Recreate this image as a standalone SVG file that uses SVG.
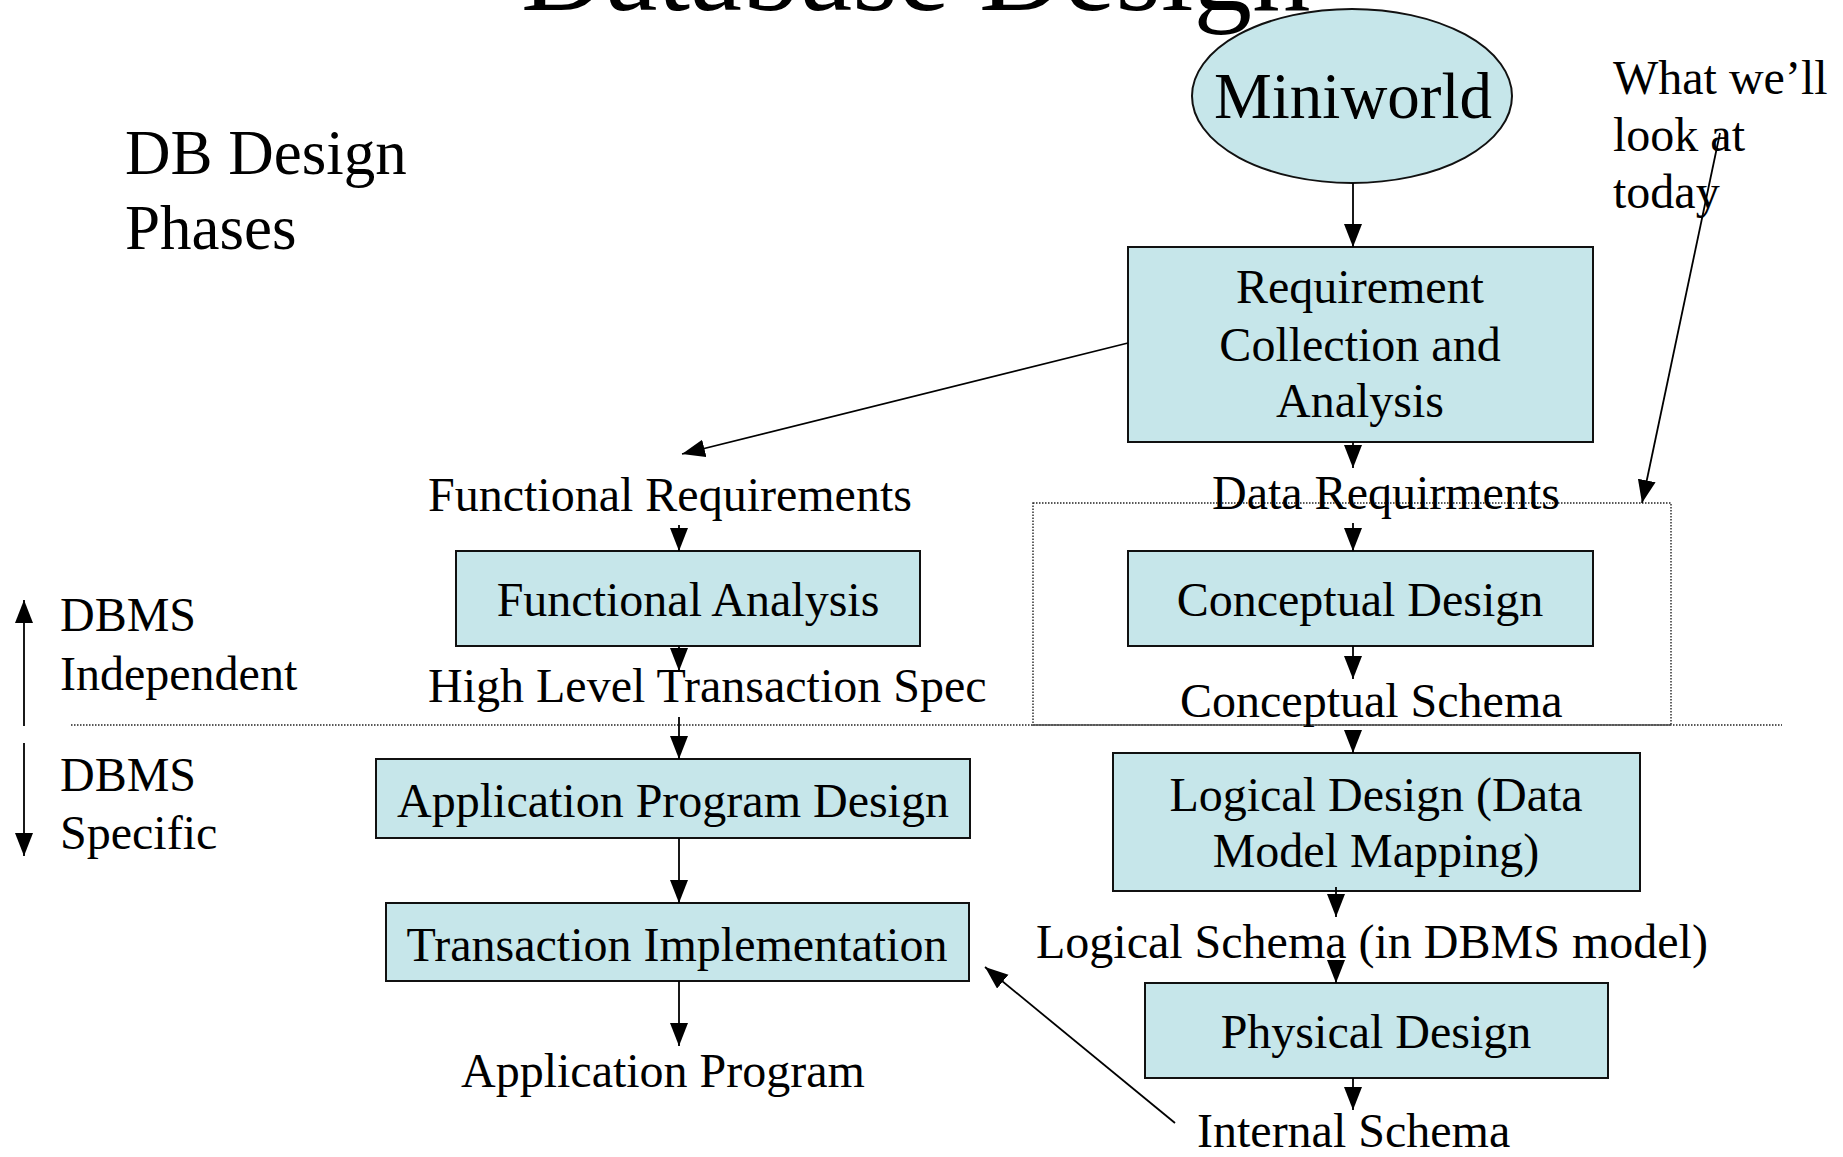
<svg xmlns="http://www.w3.org/2000/svg" width="1843" height="1157" viewBox="0 0 1843 1157">
  <style>
    text { font-family: "Liberation Serif", "Times New Roman", serif; fill: #000; }
    .t48 { font-size: 48px; }
    .mid { text-anchor: middle; }
    .box { fill: #C6E6EA; stroke: #111; stroke-width: 2; }
    .conn { stroke: #000; stroke-width: 1.8; fill: none; marker-end: url(#ah); }
    .dot { stroke: #222; stroke-width: 1.4; fill: none; stroke-dasharray: 1.5 1.5; }
  </style>
  <defs>
    <marker id="ah" markerUnits="userSpaceOnUse" markerWidth="24" markerHeight="20" refX="23" refY="9" orient="auto">
      <path d="M0,0 L23,9 L0,18 z" fill="#000"/>
    </marker>
  </defs>

  <rect width="1843" height="1157" fill="#fff"/>

  <!-- slide title (clipped by the top edge) -->
  <text id="title" x="521" y="10" style="font-size:117px">Database Design</text>

  <!-- side headings -->
  <g id="phases-heading">
    <text x="125" y="174" style="font-size:63px">DB Design</text>
    <text x="125" y="249" style="font-size:63px">Phases</text>
  </g>
  <g id="dbms-independent">
    <text class="t48" x="60" y="631">DBMS</text>
    <text class="t48" x="60" y="690">Independent</text>
  </g>
  <g id="dbms-specific">
    <text class="t48" x="60" y="791">DBMS</text>
    <text class="t48" x="60" y="849">Specific</text>
  </g>
  <g id="today-note">
    <text class="t48" x="1613" y="94">What we’ll</text>
    <text class="t48" x="1613" y="151">look at</text>
    <text class="t48" x="1613" y="208">today</text>
  </g>

  <!-- separators and the highlighted region -->
  <g id="regions">
    <line class="dot" x1="71" y1="725" x2="1782" y2="725"/>
    <rect class="dot" x="1033" y="503" width="638" height="222"/>
  </g>

  <!-- process nodes -->
  <g id="miniworld">
    <ellipse cx="1352" cy="96" rx="160" ry="87" fill="#C6E6EA" stroke="#111" stroke-width="2"/>
    <text x="1353" y="118" class="mid" style="font-size:65px">Miniworld</text>
  </g>
  <g id="requirement-collection">
    <rect class="box" x="1128" y="247" width="465" height="195"/>
    <text class="t48 mid" x="1360" y="303">Requirement</text>
    <text class="t48 mid" x="1360" y="361">Collection and</text>
    <text class="t48 mid" x="1360" y="417">Analysis</text>
  </g>
  <g id="functional-requirements">
    <text class="t48" x="428" y="511">Functional Requirements</text>
  </g>
  <g id="data-requirements">
    <text class="t48" x="1212" y="509">Data Requirments</text>
  </g>
  <g id="functional-analysis">
    <rect class="box" x="456" y="551" width="464" height="95"/>
    <text class="t48 mid" x="688" y="616">Functional Analysis</text>
  </g>
  <g id="conceptual-design">
    <rect class="box" x="1128" y="551" width="465" height="95"/>
    <text class="t48 mid" x="1360" y="616">Conceptual Design</text>
  </g>
  <g id="high-level-spec">
    <text class="t48" x="428" y="702">High Level Transaction Spec</text>
  </g>
  <g id="conceptual-schema">
    <text class="t48" x="1180" y="717">Conceptual Schema</text>
  </g>
  <g id="application-program-design">
    <rect class="box" x="376" y="759" width="594" height="79"/>
    <text class="t48 mid" x="673" y="817">Application Program Design</text>
  </g>
  <g id="logical-design">
    <rect class="box" x="1113" y="753" width="527" height="138"/>
    <text class="t48 mid" x="1376" y="811">Logical Design (Data</text>
    <text class="t48 mid" x="1376" y="867">Model Mapping)</text>
  </g>
  <g id="transaction-implementation">
    <rect class="box" x="386" y="903" width="583" height="78"/>
    <text class="t48 mid" x="677" y="961">Transaction Implementation</text>
  </g>
  <g id="logical-schema">
    <text class="t48" x="1036" y="958">Logical Schema (in DBMS model)</text>
  </g>
  <g id="physical-design">
    <rect class="box" x="1145" y="983" width="463" height="95"/>
    <text class="t48 mid" x="1376" y="1048">Physical Design</text>
  </g>
  <g id="application-program">
    <text class="t48" x="461" y="1087">Application Program</text>
  </g>
  <g id="internal-schema">
    <text class="t48" x="1197" y="1147">Internal Schema</text>
  </g>

  <!-- connectors -->
  <g id="connectors">
    <line class="conn" x1="1353" y1="183" x2="1353" y2="247"/>
    <line class="conn" x1="1128" y1="343" x2="682" y2="454"/>
    <line class="conn" x1="1353" y1="442" x2="1353" y2="468"/>
    <line class="conn" x1="1720" y1="133" x2="1642" y2="503"/>
    <line class="conn" x1="1353" y1="523" x2="1353" y2="551"/>
    <line class="conn" x1="679" y1="525" x2="679" y2="551"/>
    <line class="conn" x1="679" y1="646" x2="679" y2="671"/>
    <line class="conn" x1="1353" y1="646" x2="1353" y2="679"/>
    <line class="conn" x1="679" y1="717" x2="679" y2="759"/>
    <line class="conn" x1="1353" y1="731" x2="1353" y2="753"/>
    <line class="conn" x1="679" y1="838" x2="679" y2="903"/>
    <line class="conn" x1="1336" y1="887" x2="1336" y2="917"/>
    <line class="conn" x1="1336" y1="961" x2="1336" y2="983"/>
    <line class="conn" x1="679" y1="981" x2="679" y2="1046"/>
    <line class="conn" x1="1353" y1="1078" x2="1353" y2="1110"/>
    <line class="conn" x1="1175" y1="1123" x2="985" y2="967"/>
    <line class="conn" x1="24" y1="726" x2="24" y2="600"/>
    <line class="conn" x1="24" y1="743" x2="24" y2="856"/>
  </g>
</svg>
